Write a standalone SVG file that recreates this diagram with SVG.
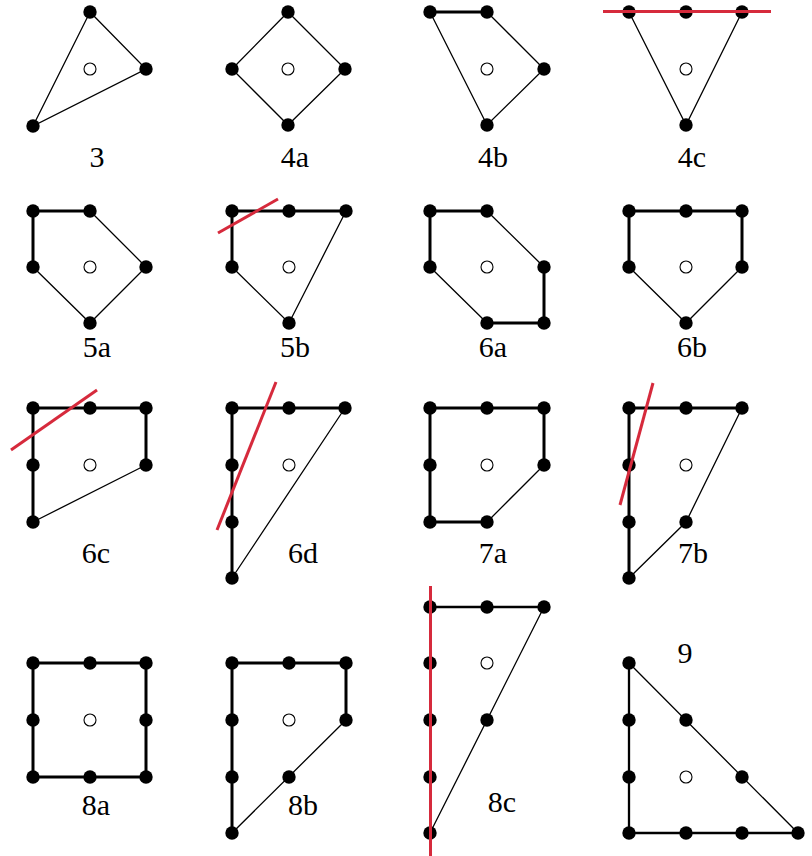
<svg xmlns="http://www.w3.org/2000/svg" width="812" height="856" viewBox="0 0 812 856">
<style>
.thin{stroke:#000;stroke-width:1.3;fill:none;stroke-linecap:round}
.thick{stroke:#000;stroke-width:3;fill:none;stroke-linecap:round}
.red{stroke:#d62a3c;stroke-width:3;fill:none}
.dot{fill:#000}
.hole{fill:#fff;stroke:#000;stroke-width:1.1}
.lbl{font-family:'Liberation Serif','DejaVu Serif',serif;font-size:30px;fill:#000;text-anchor:middle}
</style>
<defs>
<circle id="d" r="6.7" class="dot"/>
<circle id="h" r="6" class="hole"/>
</defs>
<rect width="812" height="856" fill="#fff"/>

<g id="p3">
<g class="edges">
<path class="thin" d="M90,12 L146,69 L33,126 Z"/>
</g>
<use href="#d" x="90" y="12"/><use href="#d" x="146" y="69"/><use href="#d" x="33" y="126"/>
<use href="#h" x="90" y="69"/>
<text class="lbl" x="97" y="167">3</text>
</g>

<g id="p4a">
<g class="edges">
<path class="thin" d="M288,12 L345,69 L288,125 L232,69 Z"/>
</g>
<use href="#d" x="288" y="12"/><use href="#d" x="345" y="69"/><use href="#d" x="288" y="125"/><use href="#d" x="232" y="69"/>
<use href="#h" x="288" y="69"/>
<text class="lbl" x="295" y="167">4a</text>
</g>

<g id="p4b">
<g class="edges">
<path class="thick" d="M430,12 L487,12"/>
<path class="thin" d="M487,12 L544,69 L487,125 L430,12"/>
</g>
<use href="#d" x="430" y="12"/><use href="#d" x="487" y="12"/><use href="#d" x="544" y="69"/><use href="#d" x="487" y="125"/>
<use href="#h" x="487" y="69"/>
<text class="lbl" x="493" y="167">4b</text>
</g>

<g id="p4c">
<g class="edges">
<path class="thin" d="M629,12 L686,125 L742,12"/>
</g>
<use href="#d" x="629" y="12"/><use href="#d" x="686" y="12"/><use href="#d" x="742" y="12"/><use href="#d" x="686" y="125"/>
<use href="#h" x="686" y="69"/>
<line class="red" x1="603" y1="11.5" x2="771" y2="11.5"/>
<text class="lbl" x="692" y="167">4c</text>
</g>

<g id="p5a">
<g class="edges">
<path class="thick" d="M90,211 L33,211 L33,267"/>
<path class="thin" d="M90,211 L146,267 L90,323 L33,267"/>
</g>
<use href="#d" x="33" y="211"/><use href="#d" x="90" y="211"/><use href="#d" x="33" y="267"/><use href="#d" x="146" y="267"/><use href="#d" x="90" y="323"/>
<use href="#h" x="90" y="267"/>
<text class="lbl" x="97" y="357">5a</text>
</g>

<g id="p5b">
<g class="edges">
<path class="thick" d="M346,211 L232,211 L232,267"/>
<path class="thin" d="M346,211 L289,323 L232,267"/>
</g>
<use href="#d" x="232" y="211"/><use href="#d" x="289" y="211"/><use href="#d" x="346" y="211"/><use href="#d" x="232" y="267"/><use href="#d" x="289" y="323"/>
<use href="#h" x="289" y="267"/>
<line class="red" x1="218" y1="233" x2="278" y2="199"/>
<text class="lbl" x="295" y="357">5b</text>
</g>

<g id="p6a">
<g class="edges">
<path class="thick" d="M487,211 L430,211 L430,267"/>
<path class="thick" d="M544,267 L544,323 L487,323"/>
<path class="thin" d="M487,211 L544,267"/>
<path class="thin" d="M487,323 L430,267"/>
</g>
<use href="#d" x="430" y="211"/><use href="#d" x="487" y="211"/><use href="#d" x="544" y="267"/><use href="#d" x="544" y="323"/><use href="#d" x="487" y="323"/><use href="#d" x="430" y="267"/>
<use href="#h" x="487" y="267"/>
<text class="lbl" x="493" y="357">6a</text>
</g>

<g id="p6b">
<g class="edges">
<path class="thick" d="M629,267 L629,211 L742,211 L742,267"/>
<path class="thin" d="M629,267 L686,323 L742,267"/>
</g>
<use href="#d" x="629" y="211"/><use href="#d" x="686" y="211"/><use href="#d" x="742" y="211"/><use href="#d" x="629" y="267"/><use href="#d" x="742" y="267"/><use href="#d" x="686" y="323"/>
<use href="#h" x="686" y="267"/>
<text class="lbl" x="692" y="357">6b</text>
</g>

<g id="p6c">
<g class="edges">
<path class="thick" d="M33,522 L33,408 L146,408 L146,465"/>
<path class="thin" d="M146,465 L33,522"/>
</g>
<use href="#d" x="33" y="408"/><use href="#d" x="90" y="408"/><use href="#d" x="146" y="408"/><use href="#d" x="33" y="465"/><use href="#d" x="146" y="465"/><use href="#d" x="33" y="522"/>
<use href="#h" x="90" y="465"/>
<line class="red" x1="11" y1="450" x2="97" y2="390"/>
<text class="lbl" x="96" y="563">6c</text>
</g>

<g id="p6d">
<g class="edges">
<path class="thick" d="M232,578 L232,408 L345,408"/>
<path class="thin" d="M345,408 L232,578"/>
</g>
<use href="#d" x="232" y="408"/><use href="#d" x="289" y="408"/><use href="#d" x="345" y="408"/><use href="#d" x="232" y="465"/><use href="#d" x="232" y="522"/><use href="#d" x="232" y="578"/>
<use href="#h" x="289" y="465"/>
<line class="red" x1="217" y1="530" x2="276" y2="382"/>
<text class="lbl" x="303" y="563">6d</text>
</g>

<g id="p7a">
<g class="edges">
<path class="thick" d="M487,522 L430,522 L430,408 L544,408 L544,465"/>
<path class="thin" d="M544,465 L487,522"/>
</g>
<use href="#d" x="430" y="408"/><use href="#d" x="487" y="408"/><use href="#d" x="544" y="408"/><use href="#d" x="430" y="465"/><use href="#d" x="544" y="465"/><use href="#d" x="430" y="522"/><use href="#d" x="487" y="522"/>
<use href="#h" x="487" y="465"/>
<text class="lbl" x="493" y="563">7a</text>
</g>

<g id="p7b">
<g class="edges">
<path class="thick" d="M629,578 L629,408 L742,408"/>
<path class="thin" d="M742,408 L686,522 L629,578"/>
</g>
<use href="#d" x="629" y="408"/><use href="#d" x="686" y="408"/><use href="#d" x="742" y="408"/><use href="#d" x="629" y="465"/><use href="#d" x="629" y="522"/><use href="#d" x="686" y="522"/><use href="#d" x="629" y="578"/>
<use href="#h" x="686" y="465"/>
<line class="red" x1="620" y1="505" x2="653" y2="383"/>
<text class="lbl" x="693" y="563">7b</text>
</g>

<g id="p8a">
<g class="edges">
<path class="thick" d="M33,663 L146,663 L146,777 L33,777 Z"/>
</g>
<use href="#d" x="33" y="663"/><use href="#d" x="90" y="663"/><use href="#d" x="146" y="663"/><use href="#d" x="33" y="720"/><use href="#d" x="146" y="720"/><use href="#d" x="33" y="777"/><use href="#d" x="90" y="777"/><use href="#d" x="146" y="777"/>
<use href="#h" x="90" y="720"/>
<text class="lbl" x="96" y="815">8a</text>
</g>

<g id="p8b">
<g class="edges">
<path class="thick" d="M232,833 L232,663 L346,663 L346,720"/>
<path class="thin" d="M346,720 L232,833"/>
</g>
<use href="#d" x="232" y="663"/><use href="#d" x="289" y="663"/><use href="#d" x="346" y="663"/><use href="#d" x="232" y="720"/><use href="#d" x="346" y="720"/><use href="#d" x="232" y="777"/><use href="#d" x="289" y="777"/><use href="#d" x="232" y="833"/>
<use href="#h" x="289" y="720"/>
<text class="lbl" x="303" y="815">8b</text>
</g>

<g id="p8c">
<g class="edges">
<path class="thick" style="stroke-width:2.3" d="M430,607 L544,607"/>
<path class="thin" d="M544,607 L430,833"/>
</g>
<use href="#d" x="430" y="607"/><use href="#d" x="487" y="607"/><use href="#d" x="544" y="607"/><use href="#d" x="430" y="663"/><use href="#d" x="430" y="720"/><use href="#d" x="487" y="720"/><use href="#d" x="430" y="777"/><use href="#d" x="430" y="833"/>
<use href="#h" x="487" y="663"/>
<line class="red" x1="430.5" y1="586" x2="430.5" y2="856"/>
<text class="lbl" x="502" y="812">8c</text>
</g>

<g id="p9">
<g class="edges">
<path class="thick" style="stroke-width:2.3" d="M629,663 L629,833 L798,833"/>
<path class="thin" d="M629,663 L798,833"/>
</g>
<use href="#d" x="629" y="663"/><use href="#d" x="629" y="720"/><use href="#d" x="686" y="720"/><use href="#d" x="629" y="777"/><use href="#d" x="742" y="777"/><use href="#d" x="629" y="833"/><use href="#d" x="686" y="833"/><use href="#d" x="742" y="833"/><use href="#d" x="798" y="833"/>
<use href="#h" x="686" y="777"/>
<text class="lbl" x="685" y="663">9</text>
</g>
</svg>
